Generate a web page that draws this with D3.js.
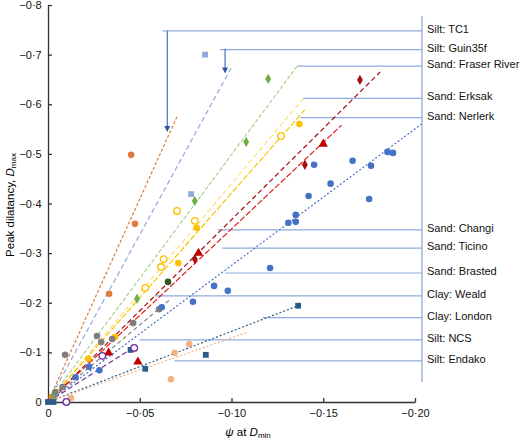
<!DOCTYPE html><html><head><meta charset="utf-8"><script src="https://cdn.jsdelivr.net/npm/d3@7"></script>
<style>body{margin:0;background:#fff}text{font-family:"Liberation Sans",Arial,sans-serif}</style></head><body><svg id="c" width="520" height="443"></svg><script>
const xTicks=[0,-0.05,-0.10,-0.15,-0.20];
const yTicks=[0,-0.1,-0.2,-0.3,-0.4,-0.5,-0.6,-0.7,-0.8];
const series=[
 ["#E07B39","circle",false,[[-0.0453,-0.498],[-0.0474,-0.359],[-0.0333,-0.218],[-0.002,-0.01]]],
 ["#8FAADC","square",false,[[-0.0856,-0.700],[-0.078,-0.419]]],
 ["#70AD47","diamond",false,[[-0.12,-0.651],[-0.108,-0.524],[-0.080,-0.405],[-0.0485,-0.208],[-0.003,-0.014]]],
 ["#FFC000","circle",false,[[-0.137,-0.560],[-0.081,-0.351],[-0.071,-0.280],[-0.0365,-0.131],[-0.022,-0.087]]],
 ["#FFC000","circle",true,[[-0.127,-0.536],[-0.0703,-0.385],[-0.080,-0.365],[-0.063,-0.288],[-0.0616,-0.272],[-0.053,-0.230]]],
 ["#A50F0F","diamond",false,[[-0.170,-0.649],[-0.140,-0.478],[-0.080,-0.288]]],
 ["#C00000","triangle",false,[[-0.150,-0.520],[-0.082,-0.300],[-0.033,-0.099],[-0.049,-0.081]]],
 ["#375623","circle",false,[[-0.0654,-0.242]]],
 ["#7F7F7F","circle",false,[[-0.0093,-0.095],[-0.0267,-0.133],[-0.029,-0.121],[-0.035,-0.127],[-0.0464,-0.159],[-0.0605,-0.187],[-0.008,-0.03],[-0.004,-0.02]]],
 ["#4472C4","circle",false,[[-0.185,-0.504],[-0.188,-0.502],[-0.166,-0.486],[-0.176,-0.476],[-0.145,-0.478],[-0.154,-0.440],[-0.142,-0.415],[-0.175,-0.409],[-0.135,-0.377],[-0.131,-0.361],[-0.135,-0.363],[-0.121,-0.270],[-0.0905,-0.234],[-0.098,-0.224],[-0.079,-0.202],[-0.062,-0.191],[-0.0224,-0.071],[-0.028,-0.064],[-0.015,-0.050]]],
 ["#2E5C8A","square",false,[[-0.1363,-0.194],[-0.086,-0.095],[-0.045,-0.105],[-0.053,-0.067],[0,0],[-0.003,0]]],
 ["#F4B183","circle",false,[[-0.077,-0.117],[-0.069,-0.099],[-0.067,-0.046],[-0.0125,-0.008]]],
 ["#7030A0","circle",true,[[-0.0296,-0.093],[-0.047,-0.109],[-0.010,0]]]
];
const trends=[
 ["#E07B39","3,2",[-0.0703,-0.575]],["#8FAADC","5,3",[-0.0998,-0.673]],["#A9D18E","4,2",[-0.1358,-0.677]],
 ["#FFE07A","5,3",[-0.139,-0.611]],["#FFC000","6,2",[-0.140,-0.589]],["#A50F0F","5,3",[-0.181,-0.665]],
 ["#E0201B","6,2",[-0.160,-0.558]],["#4472C4","2,2",[-0.2035,-0.56]],["#2E5C8A","2,2",[-0.1363,-0.194]],
 ["#F4B183","2,2",[-0.109,-0.141]],["#7030A0","5,3",[-0.047,-0.111]],["#7F7F7F","4,3",[-0.066,-0.205]]
];
const labels=["Silt: TC1","Silt: Guin35f","Sand: Fraser River","Sand: Erksak","Sand: Nerlerk","Sand: Changi","Sand: Ticino","Sand: Brasted","Clay: Weald","Clay: London","Silt: NCS","Silt: Endako"];
const labelD=[-0.748,-0.710,-0.677,-0.612,-0.573,-0.347,-0.310,-0.260,-0.214,-0.170,-0.125,-0.083];
const leaderX=[-0.0625,-0.0937,-0.1358,-0.139,-0.1375,-0.0925,-0.095,-0.0965,-0.058,-0.117,-0.05,-0.069];
const svg=d3.select("#c");
const x=d3.scaleLinear().domain([0,-0.2]).range([48,415]);
const y=d3.scaleLinear().domain([0,-0.8]).range([402,5]);
const fmt=v=>v===0?"0":d3.format(".2~f")(v).replace("-","\u2212").replace(".","\u00b7");
const fmtx=v=>v===0?"0":d3.format(".2f")(v).replace("-","\u2212").replace(".","\u00b7");
const ax=svg.append("g").attr("transform","translate(0,402)").call(d3.axisBottom(x).tickValues(xTicks).tickSize(-4).tickSizeOuter(0).tickFormat(fmtx));
const ay=svg.append("g").attr("transform","translate(48,0)").call(d3.axisLeft(y).tickValues(yTicks).tickSize(-4).tickSizeOuter(0).tickFormat(fmt));
[ax,ay].forEach(a=>{a.selectAll("path,line").attr("stroke","#333").attr("stroke-width",1.3);a.selectAll("text").attr("font-size",11).attr("fill","#111");});
ax.selectAll("text").attr("dy","1.1em");ay.selectAll("text").attr("dx","-0.3em");
svg.append("text").attr("transform","translate(14,205) rotate(-90)").attr("text-anchor","middle").attr("font-size",11.5).html('Peak dilatancy, <tspan font-style="italic">D</tspan><tspan font-size="8" dy="2">max</tspan>');
svg.append("text").attr("x",248).attr("y",436).attr("text-anchor","middle").attr("font-size",11.5).html('<tspan font-style="italic">ψ</tspan> at <tspan font-style="italic">D</tspan><tspan font-size="8" dy="2">min</tspan>');
const LC="#8FAADC";
svg.append("line").attr("x1",422).attr("x2",422).attr("y1",16).attr("y2",382).attr("stroke",LC).attr("stroke-width",1.3);
labels.forEach((l,i)=>{
 svg.append("line").attr("x1",x(leaderX[i])).attr("x2",422).attr("y1",y(labelD[i])).attr("y2",y(labelD[i])).attr("stroke",LC).attr("stroke-width",1.2);
 svg.append("text").attr("x",427).attr("y",y(labelD[i])+2).attr("font-size",11).attr("fill","#111").text(l);
});
[[-0.065,-0.748,-0.544],[-0.0965,-0.712,-0.662]].forEach(a=>{
 const X=x(a[0]),Y=y(a[2]);
 svg.append("line").attr("x1",X).attr("x2",X).attr("y1",y(a[1])).attr("y2",Y-5).attr("stroke","#4472C4").attr("stroke-width",1.2);
 svg.append("path").attr("d",`M${X-3},${Y-6}L${X+3},${Y-6}L${X},${Y}Z`).attr("fill","#2F55A4");
});
trends.forEach(t=>svg.append("line").attr("x1",x(0)).attr("y1",y(0)).attr("x2",x(t[2][0])).attr("y2",y(t[2][1])).attr("stroke",t[0]).attr("stroke-width",1.2).attr("stroke-dasharray",t[1]));
const sym={circle:d3.symbolCircle,square:d3.symbolSquare,diamond:d3.symbolDiamond,triangle:d3.symbolTriangle};
series.forEach(s=>{
 const g=d3.symbol().type(sym[s[1]]).size(s[1]=="diamond"?30:s[1]=="triangle"?38:34);
 svg.append("g").selectAll("path").data(s[3]).join("path").attr("d",g).attr("transform",d=>`translate(${x(d[0])},${y(d[1])})`)
 .attr("fill",s[2]?"#fff":s[0]).attr("stroke",s[0]).attr("stroke-width",s[2]?1.3:0);
});
</script></body></html>
